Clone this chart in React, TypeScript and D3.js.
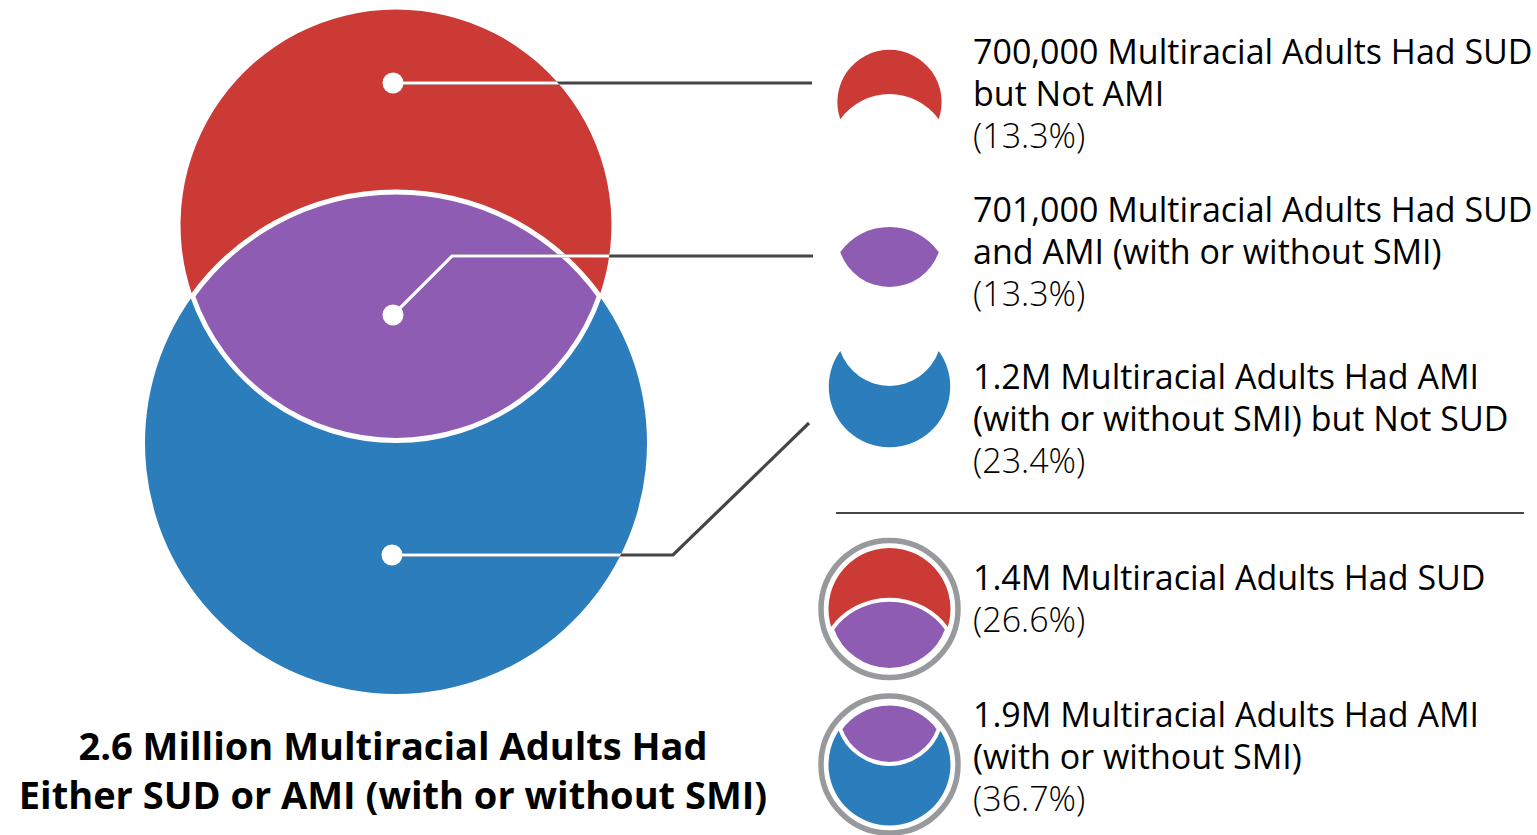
import React from "react";
import * as d3 from "d3";

// ---- Data ----
const SET_NAMES = ["SUD", "AMI"];
const SET_TOTALS = [1.4, 1.9]; // millions of adults
const SET_COLORS = ["#CC3A36", "#2C7DBC"];
const OVERLAP_COLOR = "#8E5CB2";

const REGION_KEYS = ["sudOnly", "both", "amiOnly"];
const REGION_LINES = [
  ["700,000 Multiracial Adults Had SUD", "but Not AMI"],
  ["701,000 Multiracial Adults Had SUD", "and AMI (with or without SMI)"],
  ["1.2M Multiracial Adults Had AMI", "(with or without SMI) but Not SUD"],
];
const REGION_PERCENTS = ["(13.3%)", "(13.3%)", "(23.4%)"];

const TOTAL_LINES = [
  ["1.4M Multiracial Adults Had SUD"],
  ["1.9M Multiracial Adults Had AMI", "(with or without SMI)"],
];
const TOTAL_PERCENTS = ["(26.6%)", "(36.7%)"];

const TITLE_LINES = [
  "2.6 Million Multiracial Adults Had",
  "Either SUD or AMI (with or without SMI)",
];

// ---- Layout ----
const W = 1537;
const H = 835;
const FONT = "'Open Sans', 'Noto Sans', sans-serif";
const rScale = d3.scaleSqrt().domain([0, 1.9]).range([0, 251]);
const CX = 396;
const CY_SUD = 225;
const CY_AMI = 443;
const LINE_COLOR = "#454545";

function vennGeometry(cx: number, y1: number, r1: number, y2: number, r2: number) {
  const d = y2 - y1;
  const a = (d * d + r1 * r1 - r2 * r2) / (2 * d);
  const yi = y1 + a;
  const h = Math.sqrt(r1 * r1 - a * a);
  const L = `${cx - h},${yi}`;
  const R = `${cx + h},${yi}`;
  return {
    aOnly: `M${L}A${r1},${r1} 0 1 1 ${R}A${r2},${r2} 0 0 0 ${L}Z`,
    both: `M${L}A${r1},${r1} 0 0 0 ${R}A${r2},${r2} 0 0 0 ${L}Z`,
    bOnly: `M${L}A${r2},${r2} 0 1 0 ${R}A${r1},${r1} 0 0 1 ${L}Z`,
    lensMid: ((y2 - r2) + (y1 + r1)) / 2,
  };
}

export default function App() {
  const r1 = rScale(SET_TOTALS[0]);
  const r2 = rScale(SET_TOTALS[1]);
  const g = vennGeometry(CX, CY_SUD, r1, CY_AMI, r2);

  const regionFill = [SET_COLORS[0], OVERLAP_COLOR, SET_COLORS[1]];
  const regionPath = [g.aOnly, g.both, g.bOnly];
  const regionAnchorMain = [CY_SUD, g.lensMid, CY_AMI];

  // label dots and leader lines
  const dots: [number, number][] = [
    [393, 83],
    [393, 315],
    [392, 555],
  ];
  const leaders: [number, number][][] = [
    [[393, 83], [812, 83]],
    [[393, 315], [452, 256], [813, 256]],
    [[392, 555], [673, 555], [809, 423]],
  ];
  const lineGen = d3.line();

  // legend icon placement
  const ICON_X = 889.5;
  const topIconY = [102, 257, 386.5];
  const topScale = 0.242;
  const botIconY = [609, 764.5];
  const INNER_R = 61;

  const textX = 973;
  const regionBaseY = [64, 222, 389];
  const totalBaseY = [590, 727];
  const LH = 42;
  const FS = 34;

  return (
    <div style={{ position: "fixed", left: 0, top: 0 }}>
      <svg width={W} height={H} viewBox={`0 0 ${W} ${H}`} style={{ display: "block", background: "#fff" }}>
        <defs>
          <clipPath id="unionClip">
            <circle cx={CX} cy={CY_SUD} r={r1} />
            <circle cx={CX} cy={CY_AMI} r={r2} />
          </clipPath>
        </defs>

        {/* main venn */}
        <path d={g.aOnly} fill={SET_COLORS[0]} />
        <path d={g.bOnly} fill={SET_COLORS[1]} />
        <path d={g.both} fill={OVERLAP_COLOR} stroke="#fff" strokeWidth={5} strokeLinejoin="round" />

        {/* leaders */}
        {leaders.map((pts, i) => (
          <g key={"l" + i}>
            <path d={lineGen(pts) || ""} fill="none" stroke={LINE_COLOR} strokeWidth={3.2} />
            <path d={lineGen(pts) || ""} fill="none" stroke="#fff" strokeWidth={3.2} clipPath="url(#unionClip)" />
          </g>
        ))}
        {dots.map(([x, y], i) => (
          <circle key={"d" + i} cx={x} cy={y} r={10.5} fill="#fff" />
        ))}

        {/* region legend icons */}
        {REGION_KEYS.map((k, i) => {
          const tx = ICON_X - CX * topScale;
          const ty = topIconY[i] - regionAnchorMain[i] * topScale;
          return (
            <g key={k} transform={`translate(${tx},${ty}) scale(${topScale})`}>
              <path d={regionPath[i]} fill={regionFill[i]} />
            </g>
          );
        })}

        {/* separator */}
        <line x1={836} x2={1524} y1={513} y2={513} stroke={LINE_COLOR} strokeWidth={2} />

        {/* total legend icons */}
        {SET_NAMES.map((name, i) => {
          const s = INNER_R / (i === 0 ? r1 : r2);
          const anchor = i === 0 ? CY_SUD : CY_AMI;
          const tx = ICON_X - CX * s;
          const ty = botIconY[i] - anchor * s;
          return (
            <g key={name}>
              <circle cx={ICON_X} cy={botIconY[i]} r={68.5} fill="none" stroke="#97999C" strokeWidth={5.5} />
              <g transform={`translate(${tx},${ty}) scale(${s})`}>
                <path d={i === 0 ? g.aOnly : g.bOnly} fill={SET_COLORS[i]} />
                <path d={g.both} fill={OVERLAP_COLOR} stroke="#fff" strokeWidth={4 / s} />
              </g>
            </g>
          );
        })}

        {/* region texts */}
        {REGION_LINES.map((lines, i) => (
          <text key={"rt" + i} fontFamily={FONT} fontSize={FS} fill="#000">
            {lines.map((ln, j) => (
              <tspan key={j} x={textX} y={regionBaseY[i] + j * LH}>{ln}</tspan>
            ))}
            <tspan x={textX} y={regionBaseY[i] + lines.length * LH} fontWeight={300} fill="#000">{REGION_PERCENTS[i]}</tspan>
          </text>
        ))}
        {TOTAL_LINES.map((lines, i) => (
          <text key={"tt" + i} fontFamily={FONT} fontSize={FS} fill="#000">
            {lines.map((ln, j) => (
              <tspan key={j} x={textX} y={totalBaseY[i] + j * LH}>{ln}</tspan>
            ))}
            <tspan x={textX} y={totalBaseY[i] + lines.length * LH} fontWeight={300} fill="#000">{TOTAL_PERCENTS[i]}</tspan>
          </text>
        ))}

        {/* title */}
        <text fontFamily={FONT} fontSize={38} fontWeight={700} fill="#000" textAnchor="middle">
          {TITLE_LINES.map((ln, j) => (
            <tspan key={j} x={393} y={760 + j * 49}>{ln}</tspan>
          ))}
        </text>
      </svg>
    </div>
  );
}
